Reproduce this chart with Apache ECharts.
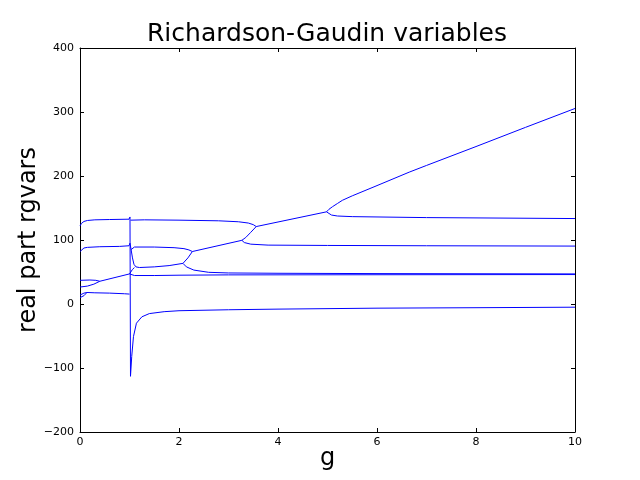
<!DOCTYPE html>
<html>
<head>
<meta charset="utf-8">
<script src="https://cdn.jsdelivr.net/npm/echarts@6/dist/echarts.min.js"></script>
<style>
  html, body { margin: 0; padding: 0; background: #fff; }
  #chart { width: 640px; height: 480px; }
</style>
</head>
<body>
<div id="chart"></div>
<script>
// 各条曲线 [g, 实部]
const topLeft = [[0,122],[0.03,126],[0.08,129],[0.15,130.5],[0.3,131.5],[0.6,132],[0.99,132.5],[1.01,136],[1.02,-113],[1.045,-82],[1.08,-51],[1.14,-30],[1.25,-20],[1.4,-15],[1.7,-12],[2,-10.5],[3,-9],[4,-8],[6,-6.5],[8,-5.8],[10,-5]];
const topRight = [[1.02,131],[1.3,131.5],[2,131],[2.8,130],[3.2,128.5],[3.4,126.5],[3.5,124],[3.56,121]];
const secondLeft = [[0,82],[0.03,85],[0.08,87.5],[0.15,88.5],[0.4,89.5],[0.8,90],[0.99,91],[1.01,95],[1.03,86],[1.06,72],[1.09,62],[1.13,58],[1.2,57],[1.5,58],[1.8,60],[2.08,63.5]];
const branchUpA = [[2.08,63.5],[2.18,72],[2.27,82]];
const branchDownA = [[2.08,63.5],[2.15,58],[2.3,53],[2.6,49.5],[3,48.5],[4,48],[6,47.5],[10,47]];
const secondRight = [[1.03,85],[1.06,88],[1.1,89],[1.5,89],[1.9,88],[2.1,86.5],[2.2,84.5],[2.27,82]];
const diagA = [[2.27,82],[3.27,99.5]];
const branchRightB = [[3.27,99.5],[3.32,96],[3.45,93.5],[3.8,92],[5,91.5],[7,91],[10,90.5]];
const branchUpB = [[3.27,99.5],[3.35,104],[3.45,112],[3.56,121]];
const diagB = [[3.56,121],[4.98,144]];
const branchUpC = [[4.98,144],[5.03,148],[5.1,152],[5.2,157],[5.3,162],[5.5,169],[6,185],[6.65,206],[7,216.5],[8,246],[9,276],[10,305.5]];
const branchRightC = [[4.98,144],[5.02,141],[5.08,139],[5.2,137.5],[5.5,136.5],[6,136],[7,135],[8,134.5],[10,133.5]];
const flatPair = [[0,37],[0.2,37.5],[0.32,37],[0.4,35.5]];
const risePair = [[0,26.5],[0.15,28],[0.28,31],[0.4,35.5]];
const diagPre = [[0.4,35.5],[1.0,47],[1.03,50],[1.06,54],[1.1,57]];
const line45 = [[1.0,47],[1.04,45.5],[1.1,44.5],[1.5,44.5],[2,45],[3,45.5],[10,46]];
const smallUpper = [[0,14],[0.04,15.5],[0.08,17],[0.14,18]];
const smallLower = [[0,10],[0.04,11],[0.08,13],[0.12,15.5],[0.14,18]];
const lowFlat = [[0.14,18],[0.3,17.5],[0.6,17],[0.9,16],[1.0,15.5]];

const xTicks = { min: 0, max: 10, interval: 2 };
const yTicks = { min: -200, max: 400, interval: 100 };

const curves = [topLeft, topRight, secondLeft, branchUpA, branchDownA, secondRight, diagA,
  branchRightB, branchUpB, diagB, branchUpC, branchRightC, flatPair, risePair, diagPre,
  line45, smallUpper, smallLower, lowFlat];

const font = 'DejaVu Sans';
const blue = '#0000ff';
const fmt = v => String(v).replace('-', '\u2212');

const chart = echarts.init(document.getElementById('chart'));
chart.setOption({
  animation: false,
  color: [blue],
  title: {
    text: 'Richardson-Gaudin variables',
    left: 327, top: 22, padding: 0, textAlign: 'center',
    textStyle: { fontFamily: font, fontSize: 25, fontWeight: 'normal', color: '#000' }
  },
  grid: { left: 80, right: 65, top: 48, bottom: 48, outerBoundsMode: 'none', containLabel: false },
  xAxis: [
    {
      type: 'value', min: xTicks.min, max: xTicks.max, interval: xTicks.interval,
      name: 'g', nameLocation: 'middle', nameGap: 15, nameMoveOverlap: false,
      nameTextStyle: { fontFamily: font, fontSize: 24, color: '#000' },
      axisLine: { onZero: false, lineStyle: { color: '#000', width: 1 } },
      axisTick: { inside: true, length: 4, lineStyle: { color: '#000' } },
      axisLabel: { fontFamily: font, fontSize: 11, color: '#000', margin: 5, formatter: fmt },
      splitLine: { show: false }
    },
    {
      type: 'value', position: 'top', min: xTicks.min, max: xTicks.max, interval: xTicks.interval,
      axisLine: { onZero: false, lineStyle: { color: '#000', width: 1 } },
      axisTick: { inside: true, length: 4, lineStyle: { color: '#000' } },
      axisLabel: { show: false }, splitLine: { show: false }
    }
  ],
  yAxis: [
    {
      type: 'value', min: yTicks.min, max: yTicks.max, interval: yTicks.interval,
      name: 'real part rgvars', nameLocation: 'middle', nameGap: 39, nameMoveOverlap: false,
      nameTextStyle: { fontFamily: font, fontSize: 24, color: '#000' },
      axisLine: { show: true, onZero: false, lineStyle: { color: '#000', width: 1 } },
      axisTick: { show: true, inside: true, length: 4, lineStyle: { color: '#000' } },
      axisLabel: { fontFamily: font, fontSize: 11, color: '#000', margin: 6, formatter: fmt },
      splitLine: { show: false }
    },
    {
      type: 'value', position: 'right', min: yTicks.min, max: yTicks.max, interval: yTicks.interval,
      axisLine: { show: true, onZero: false, lineStyle: { color: '#000', width: 1 } },
      axisTick: { show: true, inside: true, length: 4, lineStyle: { color: '#000' } },
      axisLabel: { show: false }, splitLine: { show: false }
    }
  ],
  series: curves.map(d => ({
    type: 'line', data: d, showSymbol: false, silent: true,
    itemStyle: { color: blue },
    lineStyle: { color: blue, width: 1 }
  }))
});
</script>
</body>
</html>
